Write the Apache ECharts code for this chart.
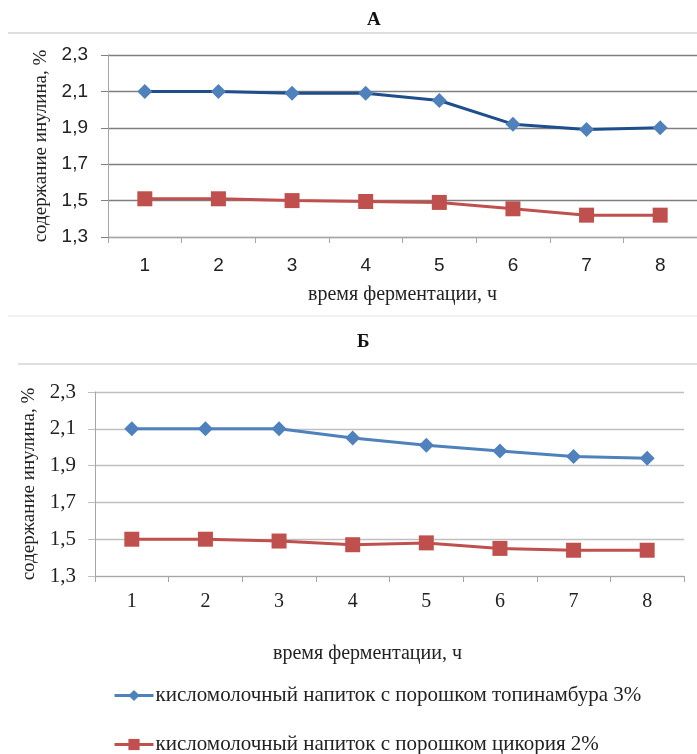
<!DOCTYPE html>
<html>
<head>
<meta charset="utf-8">
<script src="https://cdn.jsdelivr.net/npm/echarts@6/dist/echarts.min.js"></script>
<style>
html, body { margin: 0; padding: 0; background: #ffffff; }
#chart { width: 697px; height: 754px; }
</style>
</head>
<body>
<div id="chart"></div>
<script>
// Fermentation hours
const hours = ['1', '2', '3', '4', '5', '6', '7', '8'];
const seriesNames = [
  'кисломолочный напиток с порошком топинамбура 3%',
  'кисломолочный напиток с порошком цикория 2%'
];
// Panel А: inulin content, %
const topinamburA = [2.10, 2.10, 2.09, 2.09, 2.05, 1.92, 1.89, 1.90];
const chicoryA = [1.51, 1.51, 1.50, 1.495, 1.49, 1.455, 1.42, 1.42];
// Panel Б: inulin content, %
const topinamburB = [2.10, 2.10, 2.10, 2.05, 2.01, 1.98, 1.95, 1.94];
const chicoryB = [1.50, 1.50, 1.49, 1.47, 1.48, 1.45, 1.44, 1.44];

const yMin = 1.3, yMax = 2.3, yStep = 0.2;
const xName = 'время ферментации, ч';
const yName = 'содержание инулина, %';

const serif = '"Liberation Serif", "DejaVu Serif", serif';
const sans = '"Liberation Sans", "DejaVu Sans", sans-serif';

const commaFmt = v => v.toFixed(1).replace('.', ',');

function xAxisFor(gridIndex, opts) {
  return {
    type: 'category', gridIndex: gridIndex, data: hours, boundaryGap: true,
    name: xName, nameLocation: 'middle', nameGap: opts.nameGap,
    nameTextStyle: { fontFamily: serif, fontSize: 20, color: '#222', padding: opts.namePad },
    axisLine: { lineStyle: { color: '#a6a6a6', width: 1 } },
    axisTick: { show: true, alignWithLabel: false, length: 6, lineStyle: { color: '#a6a6a6' } },
    axisLabel: { fontFamily: opts.labelFont, fontSize: opts.labelSize, color: '#222', margin: opts.labelMargin },
    splitLine: { show: false }
  };
}

function yAxisFor(gridIndex, opts) {
  return {
    type: 'value', gridIndex: gridIndex, min: yMin, max: yMax, interval: yStep,
    name: yName, nameLocation: 'middle', nameGap: opts.nameGap, nameRotate: 90,
    nameTextStyle: { fontFamily: serif, fontSize: 19, color: '#222' },
    axisLine: { show: true, lineStyle: { color: '#a6a6a6', width: 1 } },
    axisTick: { show: true, length: 7, lineStyle: { color: opts.gridColor } },
    axisLabel: { fontFamily: opts.labelFont, fontSize: opts.labelSize, color: '#222', margin: opts.labelMargin, formatter: commaFmt },
    splitLine: { show: true, lineStyle: { color: opts.gridColor, width: 1.3 } }
  };
}

function legendFor(name, top) {
  return {
    data: [name],
    orient: 'horizontal',
    left: 113, top: top, padding: 0,
    itemWidth: 39, itemHeight: 14,
    lineStyle: { width: 3 },
    textStyle: { fontFamily: serif, fontSize: 21, color: '#222', padding: [0, 0, 0, -3] }
  };
}

const chart = echarts.init(document.getElementById('chart'), null, { renderer: 'canvas' });

chart.setOption({
  backgroundColor: '#ffffff',
  animation: false,
  title: [
    { text: 'А', left: 362, top: 6, textStyle: { fontFamily: serif, fontWeight: 'bold', fontSize: 19, color: '#111' } },
    { text: 'Б', left: 352, top: 328, textStyle: { fontFamily: serif, fontWeight: 'bold', fontSize: 19, color: '#111' } }
  ],
  graphic: [
    { type: 'line', shape: { x1: 8, y1: 33, x2: 697, y2: 33 }, style: { stroke: '#d4d4d4', lineWidth: 1.5 } },
    { type: 'line', shape: { x1: 8, y1: 316, x2: 697, y2: 316 }, style: { stroke: '#ececec', lineWidth: 1.5 } },
    { type: 'line', shape: { x1: 18, y1: 364, x2: 697, y2: 364 }, style: { stroke: '#d4d4d4', lineWidth: 1.5 } }
  ],
  grid: [
    { left: 108, top: 55, width: 589, height: 182, containLabel: false },
    { left: 95, top: 392, width: 589, height: 184, containLabel: false }
  ],
  xAxis: [
    xAxisFor(0, { nameGap: 48, namePad: [0, 0, 0, 0], labelFont: sans, labelSize: 19, labelMargin: 19 }),
    xAxisFor(1, { nameGap: 68, namePad: [0, 44, 0, 0], labelFont: serif, labelSize: 20, labelMargin: 16 })
  ],
  yAxis: [
    yAxisFor(0, { nameGap: 51, gridColor: '#7f7f7f', labelFont: sans, labelSize: 19, labelMargin: 20 }),
    yAxisFor(1, { nameGap: 50, gridColor: '#bfbfbf', labelFont: serif, labelSize: 21, labelMargin: 19 })
  ],
  legend: [
    legendFor(seriesNames[0], 685),
    legendFor(seriesNames[1], 734)
  ],
  series: [
    {
      name: seriesNames[0], type: 'line', xAxisIndex: 1, yAxisIndex: 1, data: topinamburB,
      symbol: 'diamond', symbolSize: 15,
      lineStyle: { color: '#4f81bd', width: 3 }, itemStyle: { color: '#4f81bd' }
    },
    {
      name: seriesNames[1], type: 'line', xAxisIndex: 1, yAxisIndex: 1, data: chicoryB,
      symbol: 'rect', symbolSize: 15,
      lineStyle: { color: '#c0504d', width: 3 }, itemStyle: { color: '#c0504d' }
    },
    {
      name: seriesNames[0], type: 'line', xAxisIndex: 0, yAxisIndex: 0, data: topinamburA,
      symbol: 'diamond', symbolSize: 15,
      lineStyle: { color: '#1f4e8c', width: 3 }, itemStyle: { color: '#4f81bd' }
    },
    {
      name: seriesNames[1], type: 'line', xAxisIndex: 0, yAxisIndex: 0, data: chicoryA,
      symbol: 'rect', symbolSize: 15,
      lineStyle: { color: '#c0504d', width: 3 }, itemStyle: { color: '#c0504d' }
    }
  ]
});
</script>
</body>
</html>
